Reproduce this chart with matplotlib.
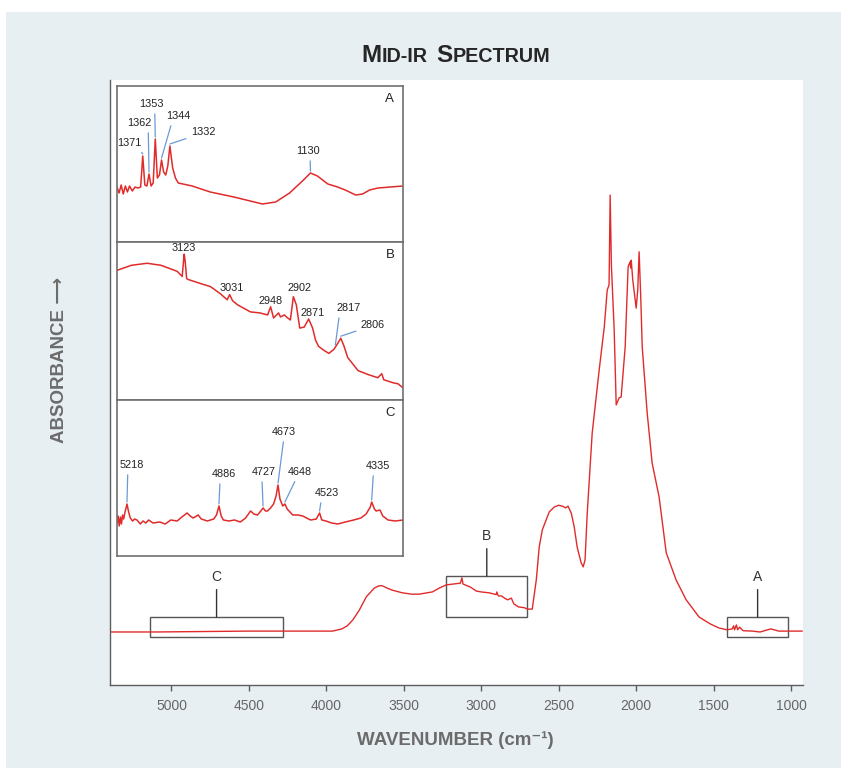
import numpy as np
import matplotlib
matplotlib.use("Agg")
import matplotlib.pyplot as plt
from matplotlib.patches import Rectangle
from matplotlib.offsetbox import TextArea, HPacker, AnnotationBbox

# ---- main mid-IR spectrum (wavenumber cm-1, absorbance a.u.) ----
main_wn = [5394, 5100, 4800, 4500, 4200, 3961, 3900, 3865, 3830, 3787, 3742, 3690,
           3660, 3639, 3610, 3574, 3510, 3450, 3400, 3350, 3316, 3270, 3226, 3180,
           3135, 3125, 3118, 3070, 3032, 3000, 2950, 2903, 2900, 2890, 2870, 2850,
           2830, 2806, 2790, 2760, 2720, 2703, 2671, 2645, 2626, 2606, 2581, 2561,
           2529, 2500, 2477, 2455, 2440, 2419, 2400, 2381, 2355, 2342, 2330, 2316, 2284,
           2239, 2206, 2187, 2175, 2168, 2160, 2142, 2129, 2110, 2097, 2071, 2052,
           2040, 2035, 2032, 2022, 2000, 1990, 1981, 1970, 1961, 1929, 1897, 1852,
           1806, 1742, 1677, 1594, 1520, 1465, 1413, 1380, 1371, 1365, 1353, 1345,
           1332, 1310, 1250, 1200, 1130, 1080, 1050, 929]
main_abs = [0.000, 0.000, 0.001, 0.002, 0.002, 0.002, 0.007, 0.014, 0.027, 0.050, 0.080, 0.100,
            0.105, 0.105, 0.100, 0.095, 0.089, 0.086, 0.086, 0.089, 0.091, 0.100, 0.107, 0.109,
            0.111, 0.123, 0.109, 0.102, 0.093, 0.091, 0.089, 0.085, 0.091, 0.082, 0.082, 0.077,
            0.073, 0.077, 0.064, 0.057, 0.055, 0.052, 0.052, 0.118, 0.193, 0.232, 0.255, 0.273,
            0.284, 0.288, 0.286, 0.282, 0.286, 0.270, 0.239, 0.193, 0.157, 0.148, 0.164, 0.270, 0.452,
            0.595, 0.693, 0.777, 0.789, 0.993, 0.834, 0.686, 0.516, 0.532, 0.534, 0.648, 0.830,
            0.841, 0.827, 0.845, 0.800, 0.736, 0.777, 0.864, 0.755, 0.648, 0.498, 0.384, 0.307,
            0.180, 0.118, 0.073, 0.034, 0.018, 0.009, 0.005, 0.007, 0.014, 0.005, 0.016, 0.005,
            0.011, 0.003, 0.002, 0.000, 0.007, 0.002, 0.002, 0.002]

# regions shown in the insets (wavenumber span, absorbance span)
box_names = ["A", "B", "C"]
box_wn_hi = [1413, 3226, 5140]
box_wn_lo = [1019, 2703, 4278]
box_abs_lo = [-0.011, 0.034, -0.011]
box_abs_hi = [0.034, 0.127, 0.034]

# ---- inset A ----
a_wn = [1408, 1405, 1402, 1399, 1396, 1393, 1390, 1386, 1382, 1378, 1374, 1371, 1368,
        1365, 1362, 1359, 1356, 1353, 1350, 1347, 1344, 1341, 1338, 1335, 1332, 1328,
        1324, 1320, 1300, 1274, 1240, 1199, 1180, 1160, 1140, 1130, 1120, 1105, 1091,
        1080, 1065, 1055, 1045, 1033, 1015, 997]
a_val = [0.55, 0.49, 0.57, 0.48, 0.56, 0.50, 0.56, 0.51, 0.55, 0.54, 0.55, 0.86, 0.57,
         0.56, 0.68, 0.56, 0.59, 1.03, 0.64, 0.67, 0.82, 0.70, 0.67, 0.76, 0.96, 0.74,
         0.64, 0.59, 0.56, 0.50, 0.45, 0.38, 0.40, 0.49, 0.62, 0.69, 0.66, 0.58, 0.55,
         0.52, 0.47, 0.48, 0.52, 0.54, 0.55, 0.56]
a_peaks = [1371, 1362, 1353, 1344, 1332, 1130]

# ---- inset B ----
b_wn = [3259, 3230, 3198, 3170, 3137, 3127, 3124, 3123, 3121, 3118, 3115, 3090, 3070,
        3050, 3036, 3031, 3025, 3015, 2989, 2970, 2954, 2948, 2942, 2932, 2928, 2920,
        2916, 2908, 2902, 2896, 2889, 2880, 2871, 2863, 2857, 2851, 2840, 2830, 2820,
        2812, 2806, 2800, 2792, 2771, 2750, 2731, 2723, 2719, 2700, 2690, 2680]
b_val = [1.28, 1.33, 1.35, 1.33, 1.27, 1.22, 1.39, 1.44, 1.37, 1.20, 1.19, 1.15, 1.12,
         1.05, 0.99, 1.04, 0.98, 0.94, 0.87, 0.86, 0.84, 0.92, 0.81, 0.86, 0.82, 0.84,
         0.82, 0.79, 1.02, 0.94, 0.71, 0.72, 0.80, 0.71, 0.59, 0.53, 0.49, 0.46, 0.50,
         0.56, 0.61, 0.54, 0.42, 0.29, 0.25, 0.22, 0.26, 0.20, 0.17, 0.16, 0.12]
b_peaks = [3123, 3031, 2948, 2902, 2871, 2817, 2806]

# ---- inset C ----
c_wn = [5254, 5250, 5246, 5242, 5238, 5234, 5230, 5225, 5218, 5212, 5206, 5198, 5190,
        5182, 5170, 5160, 5150, 5140, 5124, 5100, 5080, 5060, 5037, 5020, 5001, 4990,
        4979, 4961, 4950, 4928, 4905, 4895, 4886, 4878, 4870, 4850, 4830, 4809, 4790,
        4772, 4760, 4747, 4735, 4727, 4718, 4711, 4700, 4689, 4680, 4673, 4666, 4656,
        4648, 4640, 4620, 4600, 4584, 4570, 4555, 4535, 4523, 4515, 4500, 4480, 4457,
        4430, 4400, 4374, 4355, 4340, 4335, 4325, 4319, 4305, 4295, 4276, 4250, 4222]
c_val = [0.33, 0.40, 0.30, 0.39, 0.32, 0.41, 0.37, 0.44, 0.52, 0.44, 0.38, 0.35, 0.37,
         0.36, 0.32, 0.35, 0.33, 0.36, 0.33, 0.34, 0.32, 0.36, 0.35, 0.39, 0.43, 0.40,
         0.38, 0.41, 0.37, 0.35, 0.37, 0.41, 0.50, 0.40, 0.36, 0.35, 0.36, 0.34, 0.38,
         0.45, 0.42, 0.41, 0.45, 0.48, 0.45, 0.45, 0.48, 0.52, 0.60, 0.71, 0.57, 0.50,
         0.52, 0.47, 0.41, 0.41, 0.40, 0.38, 0.36, 0.37, 0.43, 0.36, 0.35, 0.33, 0.32,
         0.34, 0.36, 0.38, 0.42, 0.49, 0.54, 0.47, 0.45, 0.46, 0.40, 0.36, 0.35, 0.36]
c_peaks = [5218, 4886, 4727, 4673, 4648, 4523, 4335]

RED = "#e12b2b"
BLUE = "#6a9ad6"
BG = "#e8eff3"
GREY = "#5c5c5c"
SANS = ["Liberation Sans", "DejaVu Sans"]

W, H = 841, 768
fig = plt.figure(figsize=(W / 100, H / 100), dpi=100, facecolor="white")
fig.add_artist(Rectangle((6 / W, 0), 1, (H - 12) / H, transform=fig.transFigure,
                         facecolor=BG, edgecolor="none", zorder=-10))


def fig_rect(x0, y0, x1, y1):
    # pixel box (top-left origin) -> figure fraction
    return [x0 / W, (H - y1) / H, (x1 - x0) / W, (y1 - y0) / H]


ax = fig.add_axes(fig_rect(110, 80, 803, 685))
ax.set_facecolor("white")
ax.plot(main_wn, main_abs, color=RED, lw=1.0)
ax.set_xlim(5397, 923)
ax.set_ylim(-0.1205, 1.2545)
ax.set_yticks([])
ax.set_xticks(np.arange(5000, 999, -500))
for s in ["top", "right"]:
    ax.spines[s].set_visible(False)
for s in ["left", "bottom"]:
    ax.spines[s].set_color(GREY)
    ax.spines[s].set_linewidth(1.0)
ax.tick_params(axis="x", length=4, width=1.0, color=GREY, labelcolor="#666666",
               labelsize=10, pad=6)
for lab in ax.get_xticklabels():
    lab.set_family(SANS)

for name, hi, lo, b0, b1 in zip(box_names, box_wn_hi, box_wn_lo, box_abs_lo, box_abs_hi):
    ax.add_patch(Rectangle((lo, b0), hi - lo, b1 - b0, fill=False, ec="#555555", lw=1.0))
    ax.annotate(name, xy=((hi + lo) / 2, b1), xytext=(0, 40), textcoords="offset pixels",
                ha="center", va="center", fontsize=10, color="#333333", family=SANS,
                arrowprops=dict(arrowstyle="-", color="#333333", lw=1.0,
                                shrinkA=2, shrinkB=0, relpos=(0.5, 0)))


def peak_height(wn, val, p):
    return float(np.interp(p, wn[::-1], val[::-1]))


def make_inset(rect, wn, val, xlim, letter, peaks, layout):
    iax = fig.add_axes(fig_rect(*rect))
    iax.set_facecolor("white")
    iax.plot(wn, val, color=RED, lw=1.1)
    iax.set_xlim(*xlim)
    iax.set_ylim(0, 1.56)
    iax.set_xticks([])
    iax.set_yticks([])
    for s in iax.spines.values():
        s.set_color("#707070")
        s.set_linewidth(1.2)
    iax.text(0.954, 0.915, letter, transform=iax.transAxes, ha="center", va="center",
             fontsize=9.5, color="#222222", family=SANS)
    for p in peaks:
        dx, dy, rel = layout[p]
        top = peak_height(wn, val, p)
        kw = {}
        if rel is not None:
            top += 0.02
            kw["arrowprops"] = dict(arrowstyle="-", color=BLUE, lw=0.9, shrinkA=1.5,
                                    shrinkB=0, relpos=rel)
        iax.annotate(str(p), xy=(p, top), xytext=(dx, dy), textcoords="offset pixels",
                     ha="center", va="center", fontsize=7.8, color="#222222",
                     family=SANS, **kw)
    return iax


a_layout = {1371: (-13, 11, (0.85, 0)), 1362: (-10, 49, (0.88, 0)),
            1353: (-3.5, 33, (0.62, 0)), 1344: (17, 42, (0.24, 0)),
            1332: (33, 12, (0.0, 0)), 1130: (-2, 20, (0.57, 0))}
b_layout = {3123: (0, 6, None), 3031: (2, 7, None), 2948: (0, 6, None),
            2902: (6, 9, None), 2871: (4, 6, None), 2817: (13, 37, (0.14, 0)),
            2806: (32, 11, (0.04, 0.1))}
c_layout = {5218: (5, 37, (0.33, 0)), 4886: (5, 30, (0.34, 0)), 4727: (1, 34, (0.41, 0)),
            4673: (6, 51, (0.5, 0)), 4648: (15, 30, (0.38, 0)), 4523: (7, 18, (0.29, 0)),
            4335: (6, 34, (0.33, 0))}

make_inset((117, 86, 403, 242), a_wn, a_val, (1408, 997), "A", a_peaks, a_layout)
make_inset((117, 242, 403, 400), b_wn, b_val, (3259, 2680), "B", b_peaks, b_layout)
make_inset((117, 400, 403, 556), c_wn, c_val, (5254, 4222), "C", c_peaks, c_layout)

# title in small caps
big = dict(fontsize=17.5, fontweight="bold", color="#262626", family=SANS)
small = dict(fontsize=14.2, fontweight="bold", color="#262626", family=SANS)
w1 = HPacker(children=[TextArea("M", textprops=big), TextArea("ID-IR", textprops=small)],
             sep=0, align="baseline", pad=0)
w2 = HPacker(children=[TextArea("S", textprops=big), TextArea("PECTRUM", textprops=small)],
             sep=0, align="baseline", pad=0)
title = HPacker(children=[w1, w2], sep=6, align="baseline", pad=0)
fig.add_artist(AnnotationBbox(title, (456 / W, 1 - 55 / H), xycoords="figure fraction",
                              frameon=False, box_alignment=(0.5, 0.5), pad=0))

fig.text(455 / W, 1 - 740 / H, "WAVENUMBER (cm\u207b\u00b9)", ha="center", va="center",
         fontsize=13.5, fontweight="bold", color="#6b6b6b", family=SANS)
fig.text(60 / W, 1 - 360 / H, "ABSORBANCE \u27f6", ha="center", va="center",
         rotation=90, fontsize=13.5, fontweight="bold", color="#6b6b6b", family=SANS)

fig.savefig("out.png", dpi=100, facecolor=fig.get_facecolor())
